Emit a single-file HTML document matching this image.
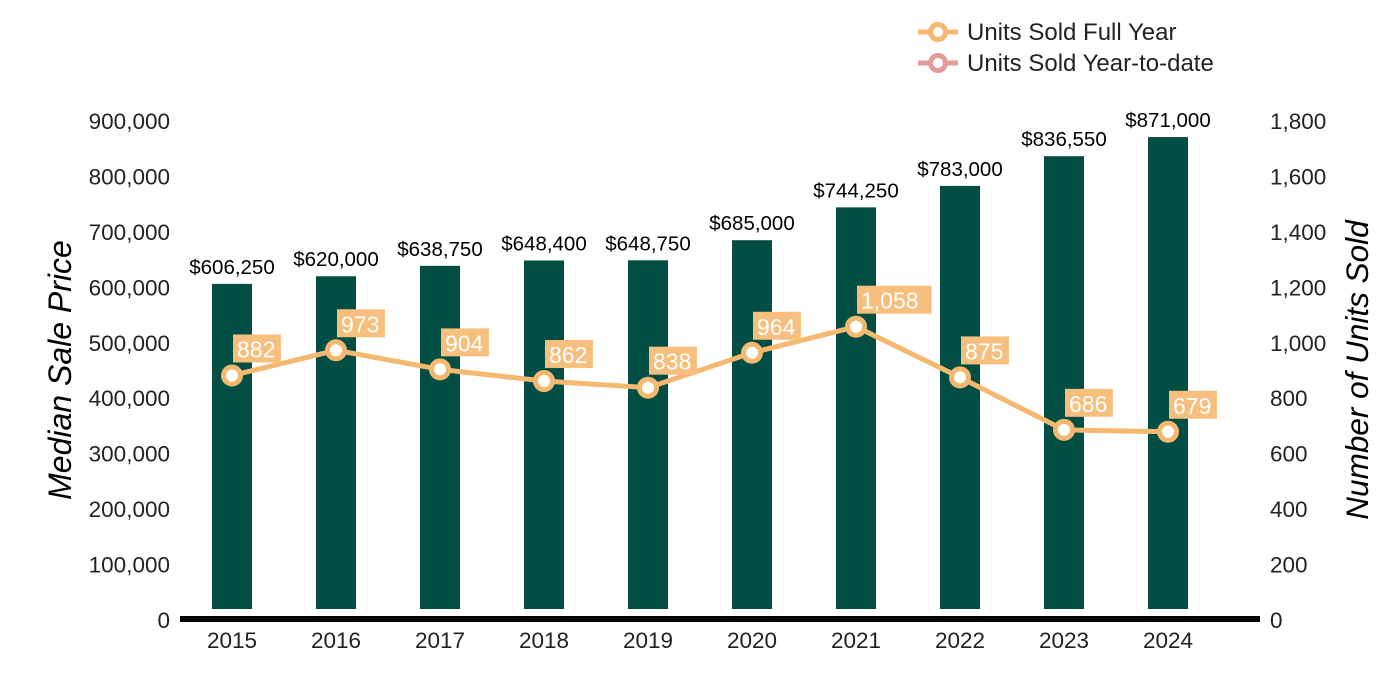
<!DOCTYPE html>
<html><head><meta charset="utf-8"><style>
body{margin:0;background:#fff}
svg{display:block;font-family:"Liberation Sans",Arial,sans-serif}
</style></head><body>
<svg id="c" width="1400" height="700"></svg>
<script>
const years=["2015","2016","2017","2018","2019","2020","2021","2022","2023","2024"];
const prices=[606250,620000,638750,648400,648750,685000,744250,783000,836550,871000];
const units=[882,973,904,862,838,964,1058,875,686,679];
const leftTicks=[0,100000,200000,300000,400000,500000,600000,700000,800000,900000];
const rightTicks=[0,200,400,600,800,1000,1200,1400,1600,1800];
const NS="http://www.w3.org/2000/svg";
const svg=document.getElementById('c');
function el(t,a,txt){const e=document.createElementNS(NS,t);for(const k in a)e.setAttribute(k,a[k]);if(txt!==undefined)e.textContent=txt;svg.appendChild(e);return e;}
const y0=620,yTop=121;
const yL=v=>y0-(v/900000)*(y0-yTop);
const yR=v=>y0-(v/1800)*(y0-yTop);
const xC=i=>232+i*104;
leftTicks.forEach(t=>{const e=el('text',{x:170,y:yL(t)+8,'text-anchor':'end','font-size':22.5,fill:'#222'},t.toLocaleString('en-US'));

});
rightTicks.forEach(t=>{const e=el('text',{x:1270,y:yR(t)+8,'font-size':22.5,fill:'#222'},t.toLocaleString('en-US'));

});
let a=el('text',{transform:'translate(71,370) rotate(-90)','text-anchor':'middle','font-size':32,'font-style':'italic',fill:'#000'},'Median Sale Price');


a=el('text',{transform:'translate(1368,370) rotate(-90)','text-anchor':'middle','font-size':31.5,'font-style':'italic',fill:'#000'},'Number of Units Sold');


prices.forEach((p,i)=>{const b=el('rect',{x:xC(i)-20,y:yL(p),width:40,height:609-yL(p),fill:'#024D44'});


const t=el('text',{x:xC(i),y:yL(p)-10,'text-anchor':'middle','font-size':20.5,fill:'#000'},'$'+p.toLocaleString('en-US'));


const x=el('text',{x:xC(i),y:648,'text-anchor':'middle','font-size':22.5,fill:'#222'},years[i]);

});
const ax=el('rect',{x:180,y:616,width:1080,height:6,fill:'#000'});


const ln=el('polyline',{points:units.map((u,i)=>xC(i)+','+yR(u)).join(' '),fill:'none',stroke:'#F5B871','stroke-width':5});


units.forEach((u,i)=>{const px=xC(i),py=yR(u);
const c=el('circle',{cx:px,cy:py,r:8.5,fill:'#fff',stroke:'#F5B871','stroke-width':5});


const s=u.toLocaleString('en-US');const w=s.length*13.3+8;
const r=el('rect',{x:px+1,y:py-41,width:w,height:28,fill:'#F6BF7E'});


const t=el('text',{x:px+5,y:py-18,'font-size':23,fill:'#fff'},s);

});
[['Units Sold Full Year','#F5B871',32],['Units Sold Year-to-date','#E09C98',63]].forEach(([n,col,y])=>{
const l=el('line',{x1:918,y1:y,x2:958,y2:y,stroke:col,'stroke-width':5});


const c=el('circle',{cx:938,cy:y,r:7.5,fill:'#fff',stroke:col,'stroke-width':5});


const t=el('text',{x:967,y:y+8,'font-size':24,fill:'#222'},n);

});
</script>
</body></html>
